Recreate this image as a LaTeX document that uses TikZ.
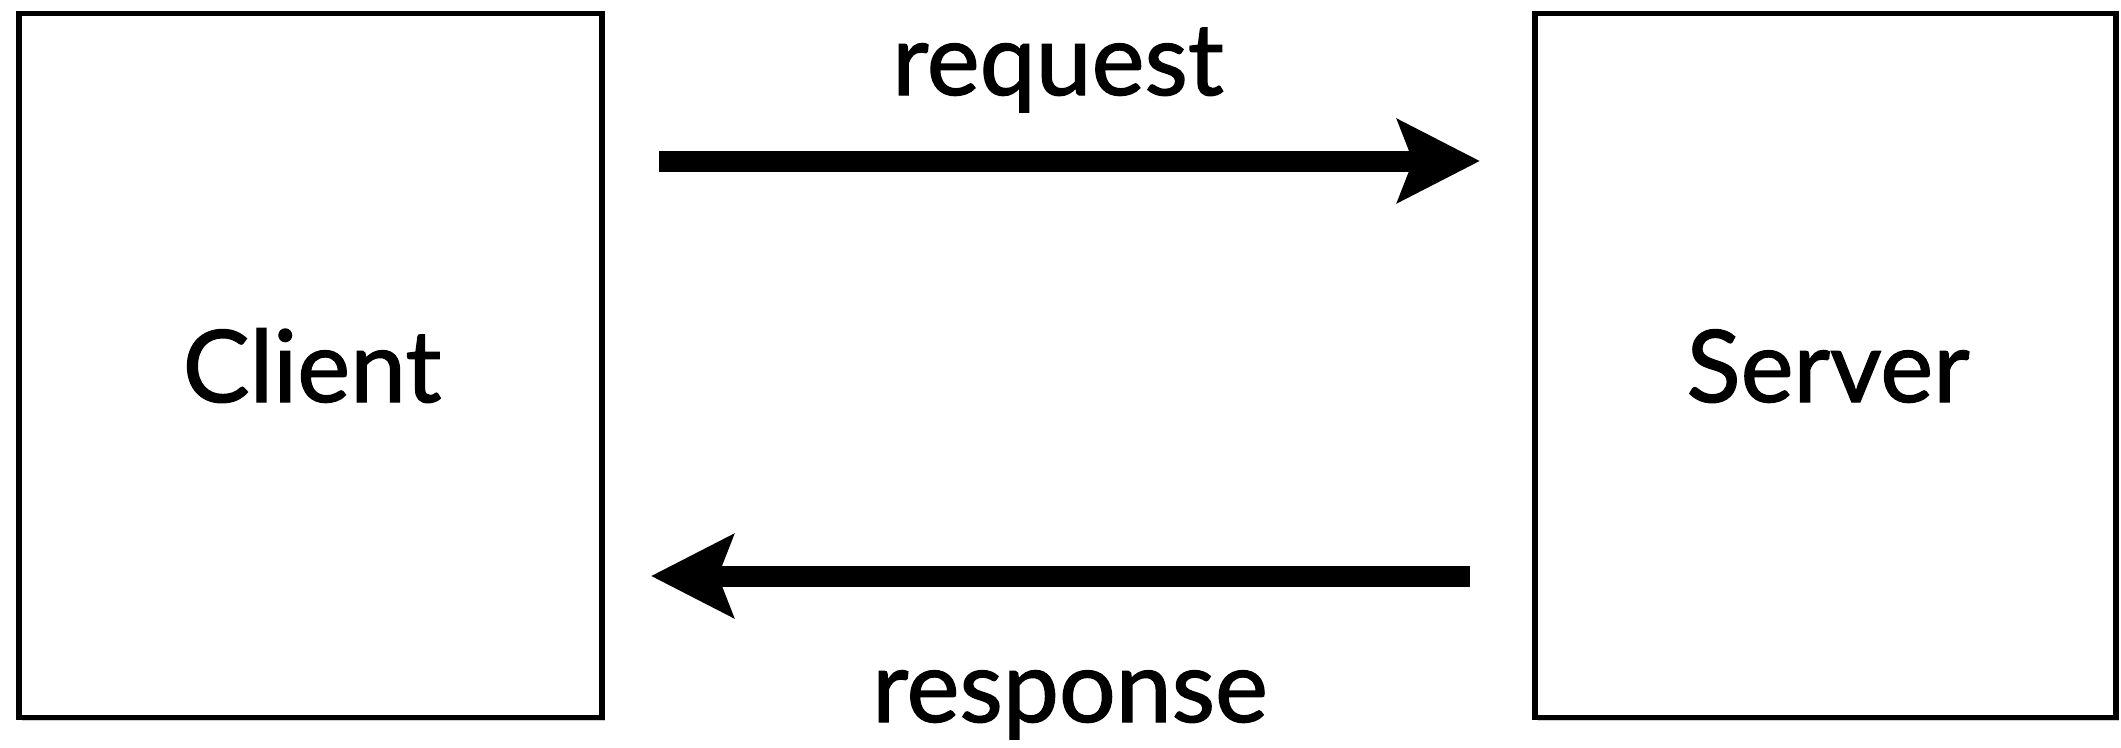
\documentclass[tikz,border=0pt]{standalone}
\usepackage{fontspec}
\setmainfont{Lato}[FakeBold=1.3]
\usetikzlibrary{arrows.meta,shadows}
\tikzset{
  boxnode/.style={draw=black, line width=0.055cm, fill=white, rectangle,
    minimum height=7.04cm, inner sep=0pt,
    drop shadow={shadow xshift=0.03cm, shadow yshift=-0.035cm, opacity=0.2, fill=black}},
  arr/.style={line width=0.21cm, -{Stealth[length=8.2mm, width=8.2mm, inset=1.5mm]}},
  lbl/.style={font=\fontsize{28.5}{30}\selectfont, anchor=base, inner sep=0pt}
}
\begin{document}
\begin{tikzpicture}
\useasboundingbox (0,0) rectangle (21.21,-7.47);
\node[boxnode, minimum width=5.83cm] (client) at (3.105,-3.655) {};
\node[boxnode, minimum width=5.81cm] (server) at (18.255,-3.655) {};
\node[lbl] (clienttxt) at (3.12,-4.02) {Client};
\node[lbl] (servertxt) at (18.28,-4.02) {Server};
\coordinate (rqs) at (6.59,-1.61);
\coordinate (rqe) at (14.80,-1.61);
\coordinate (rss) at (14.70,-5.76);
\coordinate (rse) at (6.51,-5.76);
\draw[arr] (rqs) -- (rqe);
\draw[arr] (rss) -- (rse);
\node[lbl] (reqtxt) at (10.58,-0.95) {request};
\node[lbl] (resptxt) at (10.70,-7.22) {response};
\end{tikzpicture}
\end{document}
